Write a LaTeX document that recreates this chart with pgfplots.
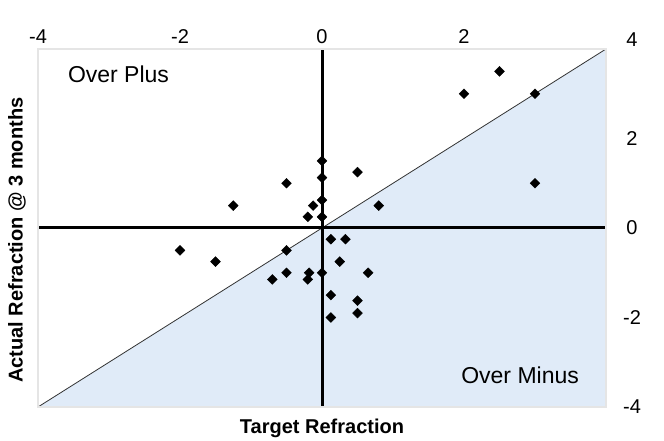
\documentclass[border=0pt]{standalone}
\usepackage{fontspec}
\setmainfont{Liberation Sans}
\usepackage{pgfplots}
\pgfplotsset{compat=1.18}
\definecolor{lightfill}{RGB}{224,235,248}
\newcommand{\tickfont}{\fontsize{20bp}{23bp}\selectfont}
\begin{document}
\begin{tikzpicture}
\useasboundingbox (0,0) rectangle (664bp,441bp);
\begin{axis}[
  at={(38bp,34bp)}, anchor=south west,
  scale only axis, width=568bp, height=358bp,
  xmin=-4, xmax=4, ymin=-4, ymax=4,
  xtick={-4,-2,0,2}, ytick={-4,-2,0,2},
  extra y ticks={4},
  extra y tick style={yticklabel style={yshift=9bp}},
  xticklabel pos=right, yticklabel pos=right,
  major tick length=0pt,
  /pgf/number format/assume math mode=true,
  xticklabel={\tickfont\pgfmathprintnumber{\tick}},
  yticklabel={\tickfont\pgfmathprintnumber{\tick}},
  xticklabel style={anchor=center, yshift=12bp},
  yticklabel style={anchor=center, xshift=26bp},
  axis on top,
  axis line style={draw=gray!70!black, double=gray!20, double distance=1.4bp, line width=0.6bp},
  xlabel={Target Refraction},
  xlabel style={at={(axis description cs:0.5,0)}, anchor=center, yshift=-21bp, font=\bfseries\fontsize{20bp}{23bp}\selectfont},
  ylabel={Actual Refraction @ 3 months},
  ylabel style={at={(axis description cs:0,0.466)}, anchor=center, yshift=21bp, font=\bfseries\fontsize{20bp}{23bp}\selectfont},
  clip=false,
]
\addplot[fill=lightfill, draw=none] coordinates {(-4,-4) (4,4) (4,-4) (-4,-4)};
\addplot[black!80, line width=0.8bp] coordinates {(-4,-4) (4,4)};
\addplot[black, line width=3bp] coordinates {(-4,0) (4,0)};
\addplot[black, line width=3bp] coordinates {(0,-4) (0,4)};
\addplot[only marks, mark=square*, mark size=3.5bp, mark options={rotate=45, fill=black, draw=black}] coordinates {
(0.5,1.25) (-0.5,1.0) (-1.25,0.5) (-0.125,0.5) (-0.2,0.25)
(0,1.5) (0,1.125) (0,0.625) (0,0.25) (0.8,0.5)
(0.125,-0.25) (0.33,-0.25) (-2.0,-0.5) (-1.5,-0.75) (-0.5,-0.5)
(0.25,-0.75) (-0.5,-1.0) (-0.7,-1.15) (-0.18,-1.0) (-0.2,-1.15)
(0,-1.0) (0.65,-1.0) (0.125,-1.5) (0.5,-1.625) (0.5,-1.9)
(0.125,-2.0) (2.5,3.5) (2.0,3.0) (3.0,3.0) (3.0,1.0)
};
\node[anchor=west, inner sep=0, font=\fontsize{23bp}{27bp}\selectfont] at (axis cs:-3.58,3.43) {Over Plus};
\node[anchor=center, inner sep=0, font=\fontsize{23bp}{27bp}\selectfont] at (axis cs:2.79,-3.3) {Over Minus};
\end{axis}
\end{tikzpicture}
\end{document}
